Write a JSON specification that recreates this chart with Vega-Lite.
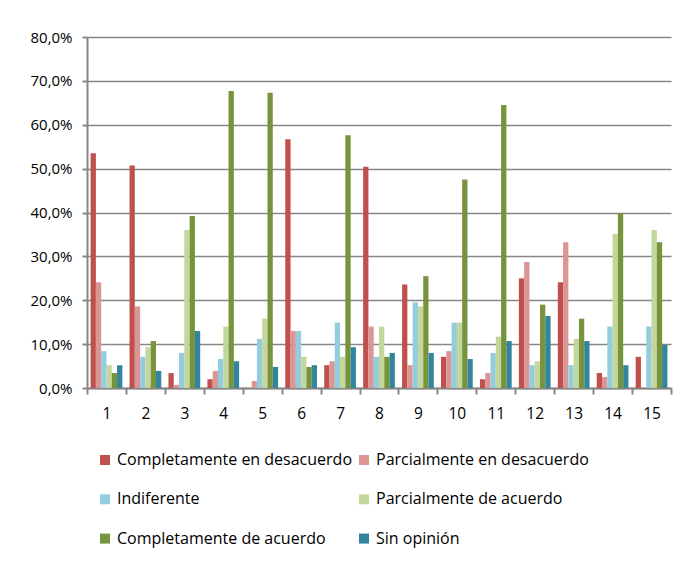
{
  "$schema": "https://vega.github.io/schema/vega-lite/v6.json",
  "width": 584,
  "height": 351,
  "autosize": "none",
  "padding": {"left": 87, "top": 37, "right": 27, "bottom": 179},
  "background": "white",
  "config": {"view": {"stroke": null}, "font": "Open Sans"},
  "datasets": {
    "tabla": [
      {"p": 1, "serie": "Completamente en desacuerdo", "v": 53.5},
      {"p": 1, "serie": "Parcialmente en desacuerdo", "v": 24.1},
      {"p": 1, "serie": "Indiferente", "v": 8.4},
      {"p": 1, "serie": "Parcialmente de acuerdo", "v": 5.2},
      {"p": 1, "serie": "Completamente de acuerdo", "v": 3.4},
      {"p": 1, "serie": "Sin opinión", "v": 5.2},
      {"p": 2, "serie": "Completamente en desacuerdo", "v": 50.7},
      {"p": 2, "serie": "Parcialmente en desacuerdo", "v": 18.6},
      {"p": 2, "serie": "Indiferente", "v": 7.1},
      {"p": 2, "serie": "Parcialmente de acuerdo", "v": 9.3},
      {"p": 2, "serie": "Completamente de acuerdo", "v": 10.7},
      {"p": 2, "serie": "Sin opinión", "v": 3.9},
      {"p": 3, "serie": "Completamente en desacuerdo", "v": 3.4},
      {"p": 3, "serie": "Parcialmente en desacuerdo", "v": 0.7},
      {"p": 3, "serie": "Indiferente", "v": 8.0},
      {"p": 3, "serie": "Parcialmente de acuerdo", "v": 36.0},
      {"p": 3, "serie": "Completamente de acuerdo", "v": 39.2},
      {"p": 3, "serie": "Sin opinión", "v": 13.0},
      {"p": 4, "serie": "Completamente en desacuerdo", "v": 2.0},
      {"p": 4, "serie": "Parcialmente en desacuerdo", "v": 3.9},
      {"p": 4, "serie": "Indiferente", "v": 6.6},
      {"p": 4, "serie": "Parcialmente de acuerdo", "v": 14.0},
      {"p": 4, "serie": "Completamente de acuerdo", "v": 67.7},
      {"p": 4, "serie": "Sin opinión", "v": 6.1},
      {"p": 5, "serie": "Completamente en desacuerdo", "v": 0},
      {"p": 5, "serie": "Parcialmente en desacuerdo", "v": 1.6},
      {"p": 5, "serie": "Indiferente", "v": 11.2},
      {"p": 5, "serie": "Parcialmente de acuerdo", "v": 15.8},
      {"p": 5, "serie": "Completamente de acuerdo", "v": 67.3},
      {"p": 5, "serie": "Sin opinión", "v": 4.8},
      {"p": 6, "serie": "Completamente en desacuerdo", "v": 56.7},
      {"p": 6, "serie": "Parcialmente en desacuerdo", "v": 13.0},
      {"p": 6, "serie": "Indiferente", "v": 13.0},
      {"p": 6, "serie": "Parcialmente de acuerdo", "v": 7.1},
      {"p": 6, "serie": "Completamente de acuerdo", "v": 4.8},
      {"p": 6, "serie": "Sin opinión", "v": 5.2},
      {"p": 7, "serie": "Completamente en desacuerdo", "v": 5.2},
      {"p": 7, "serie": "Parcialmente en desacuerdo", "v": 6.1},
      {"p": 7, "serie": "Indiferente", "v": 14.9},
      {"p": 7, "serie": "Parcialmente de acuerdo", "v": 7.1},
      {"p": 7, "serie": "Completamente de acuerdo", "v": 57.6},
      {"p": 7, "serie": "Sin opinión", "v": 9.3},
      {"p": 8, "serie": "Completamente en desacuerdo", "v": 50.4},
      {"p": 8, "serie": "Parcialmente en desacuerdo", "v": 14.0},
      {"p": 8, "serie": "Indiferente", "v": 7.1},
      {"p": 8, "serie": "Parcialmente de acuerdo", "v": 14.0},
      {"p": 8, "serie": "Completamente de acuerdo", "v": 7.1},
      {"p": 8, "serie": "Sin opinión", "v": 8.0},
      {"p": 9, "serie": "Completamente en desacuerdo", "v": 23.6},
      {"p": 9, "serie": "Parcialmente en desacuerdo", "v": 5.2},
      {"p": 9, "serie": "Indiferente", "v": 19.5},
      {"p": 9, "serie": "Parcialmente de acuerdo", "v": 18.6},
      {"p": 9, "serie": "Completamente de acuerdo", "v": 25.5},
      {"p": 9, "serie": "Sin opinión", "v": 8.0},
      {"p": 10, "serie": "Completamente en desacuerdo", "v": 7.1},
      {"p": 10, "serie": "Parcialmente en desacuerdo", "v": 8.4},
      {"p": 10, "serie": "Indiferente", "v": 14.9},
      {"p": 10, "serie": "Parcialmente de acuerdo", "v": 14.9},
      {"p": 10, "serie": "Completamente de acuerdo", "v": 47.5},
      {"p": 10, "serie": "Sin opinión", "v": 6.6},
      {"p": 11, "serie": "Completamente en desacuerdo", "v": 2.0},
      {"p": 11, "serie": "Parcialmente en desacuerdo", "v": 3.4},
      {"p": 11, "serie": "Indiferente", "v": 8.0},
      {"p": 11, "serie": "Parcialmente de acuerdo", "v": 11.7},
      {"p": 11, "serie": "Completamente de acuerdo", "v": 64.5},
      {"p": 11, "serie": "Sin opinión", "v": 10.7},
      {"p": 12, "serie": "Completamente en desacuerdo", "v": 25.0},
      {"p": 12, "serie": "Parcialmente en desacuerdo", "v": 28.7},
      {"p": 12, "serie": "Indiferente", "v": 5.2},
      {"p": 12, "serie": "Parcialmente de acuerdo", "v": 6.1},
      {"p": 12, "serie": "Completamente de acuerdo", "v": 19.0},
      {"p": 12, "serie": "Sin opinión", "v": 16.4},
      {"p": 13, "serie": "Completamente en desacuerdo", "v": 24.1},
      {"p": 13, "serie": "Parcialmente en desacuerdo", "v": 33.2},
      {"p": 13, "serie": "Indiferente", "v": 5.2},
      {"p": 13, "serie": "Parcialmente de acuerdo", "v": 11.2},
      {"p": 13, "serie": "Completamente de acuerdo", "v": 15.8},
      {"p": 13, "serie": "Sin opinión", "v": 10.7},
      {"p": 14, "serie": "Completamente en desacuerdo", "v": 3.4},
      {"p": 14, "serie": "Parcialmente en desacuerdo", "v": 2.5},
      {"p": 14, "serie": "Indiferente", "v": 14.0},
      {"p": 14, "serie": "Parcialmente de acuerdo", "v": 35.1},
      {"p": 14, "serie": "Completamente de acuerdo", "v": 39.9},
      {"p": 14, "serie": "Sin opinión", "v": 5.2},
      {"p": 15, "serie": "Completamente en desacuerdo", "v": 7.1},
      {"p": 15, "serie": "Parcialmente en desacuerdo", "v": 0},
      {"p": 15, "serie": "Indiferente", "v": 14.0},
      {"p": 15, "serie": "Parcialmente de acuerdo", "v": 36.0},
      {"p": 15, "serie": "Completamente de acuerdo", "v": 33.2},
      {"p": 15, "serie": "Sin opinión", "v": 9.8}
    ]
  },
  "data": {"name": "tabla"},
  "mark": {"type": "bar"},
  "encoding": {
    "x": {
      "field": "p",
      "type": "ordinal",
      "scale": {"paddingInner": 0, "paddingOuter": 0},
      "axis": {
        "title": null,
        "labelAngle": 0,
        "tickBand": "extent",
        "tickSize": 6,
        "tickWidth": 2,
        "tickColor": "#868686",
        "domainColor": "#868686",
        "domainWidth": 2,
        "labelPadding": 12,
        "labelFontSize": 15.5,
        "labelColor": "#000000",
        "labelFont": "Open Sans"
      }
    },
    "xOffset": {
      "field": "serie",
      "sort": ["Completamente en desacuerdo", "Parcialmente en desacuerdo", "Indiferente", "Parcialmente de acuerdo", "Completamente de acuerdo", "Sin opinión"],
      "scale": {"paddingInner": 0, "paddingOuter": 0.68}
    },
    "y": {
      "field": "v",
      "type": "quantitative",
      "scale": {"domain": [0, 80], "nice": false},
      "axis": {
        "title": null,
        "values": [0, 10, 20, 30, 40, 50, 60, 70, 80],
        "labelExpr": "replace(format(datum.value, '.1f'), '.', ',') + '%'",
        "tickSize": 5,
        "tickWidth": 2,
        "tickColor": "#868686",
        "domainColor": "#868686",
        "domainWidth": 2,
        "gridColor": "#868686",
        "gridWidth": 1.5,
        "labelPadding": 10,
        "labelFontSize": 15,
        "labelColor": "#000000",
        "labelFont": "Open Sans"
      }
    },
    "color": {
      "field": "serie",
      "type": "nominal",
      "scale": {
        "domain": ["Completamente en desacuerdo", "Parcialmente en desacuerdo", "Indiferente", "Parcialmente de acuerdo", "Completamente de acuerdo", "Sin opinión"],
        "range": ["#C0504D", "#D99694", "#93CDDD", "#C3D69B", "#77933C", "#31859C"]
      },
      "legend": {
        "title": null,
        "orient": "none",
        "legendX": 10,
        "legendY": 415,
        "columns": 2,
        "direction": "horizontal",
        "symbolType": "square",
        "symbolSize": 100,
        "symbolStrokeWidth": 0,
        "labelFontSize": 16,
        "labelFont": "Open Sans",
        "labelColor": "#000000",
        "labelOffset": 4,
        "labelLimit": 400,
        "rowPadding": 23.3,
        "columnPadding": 3
      }
    }
  }
}
